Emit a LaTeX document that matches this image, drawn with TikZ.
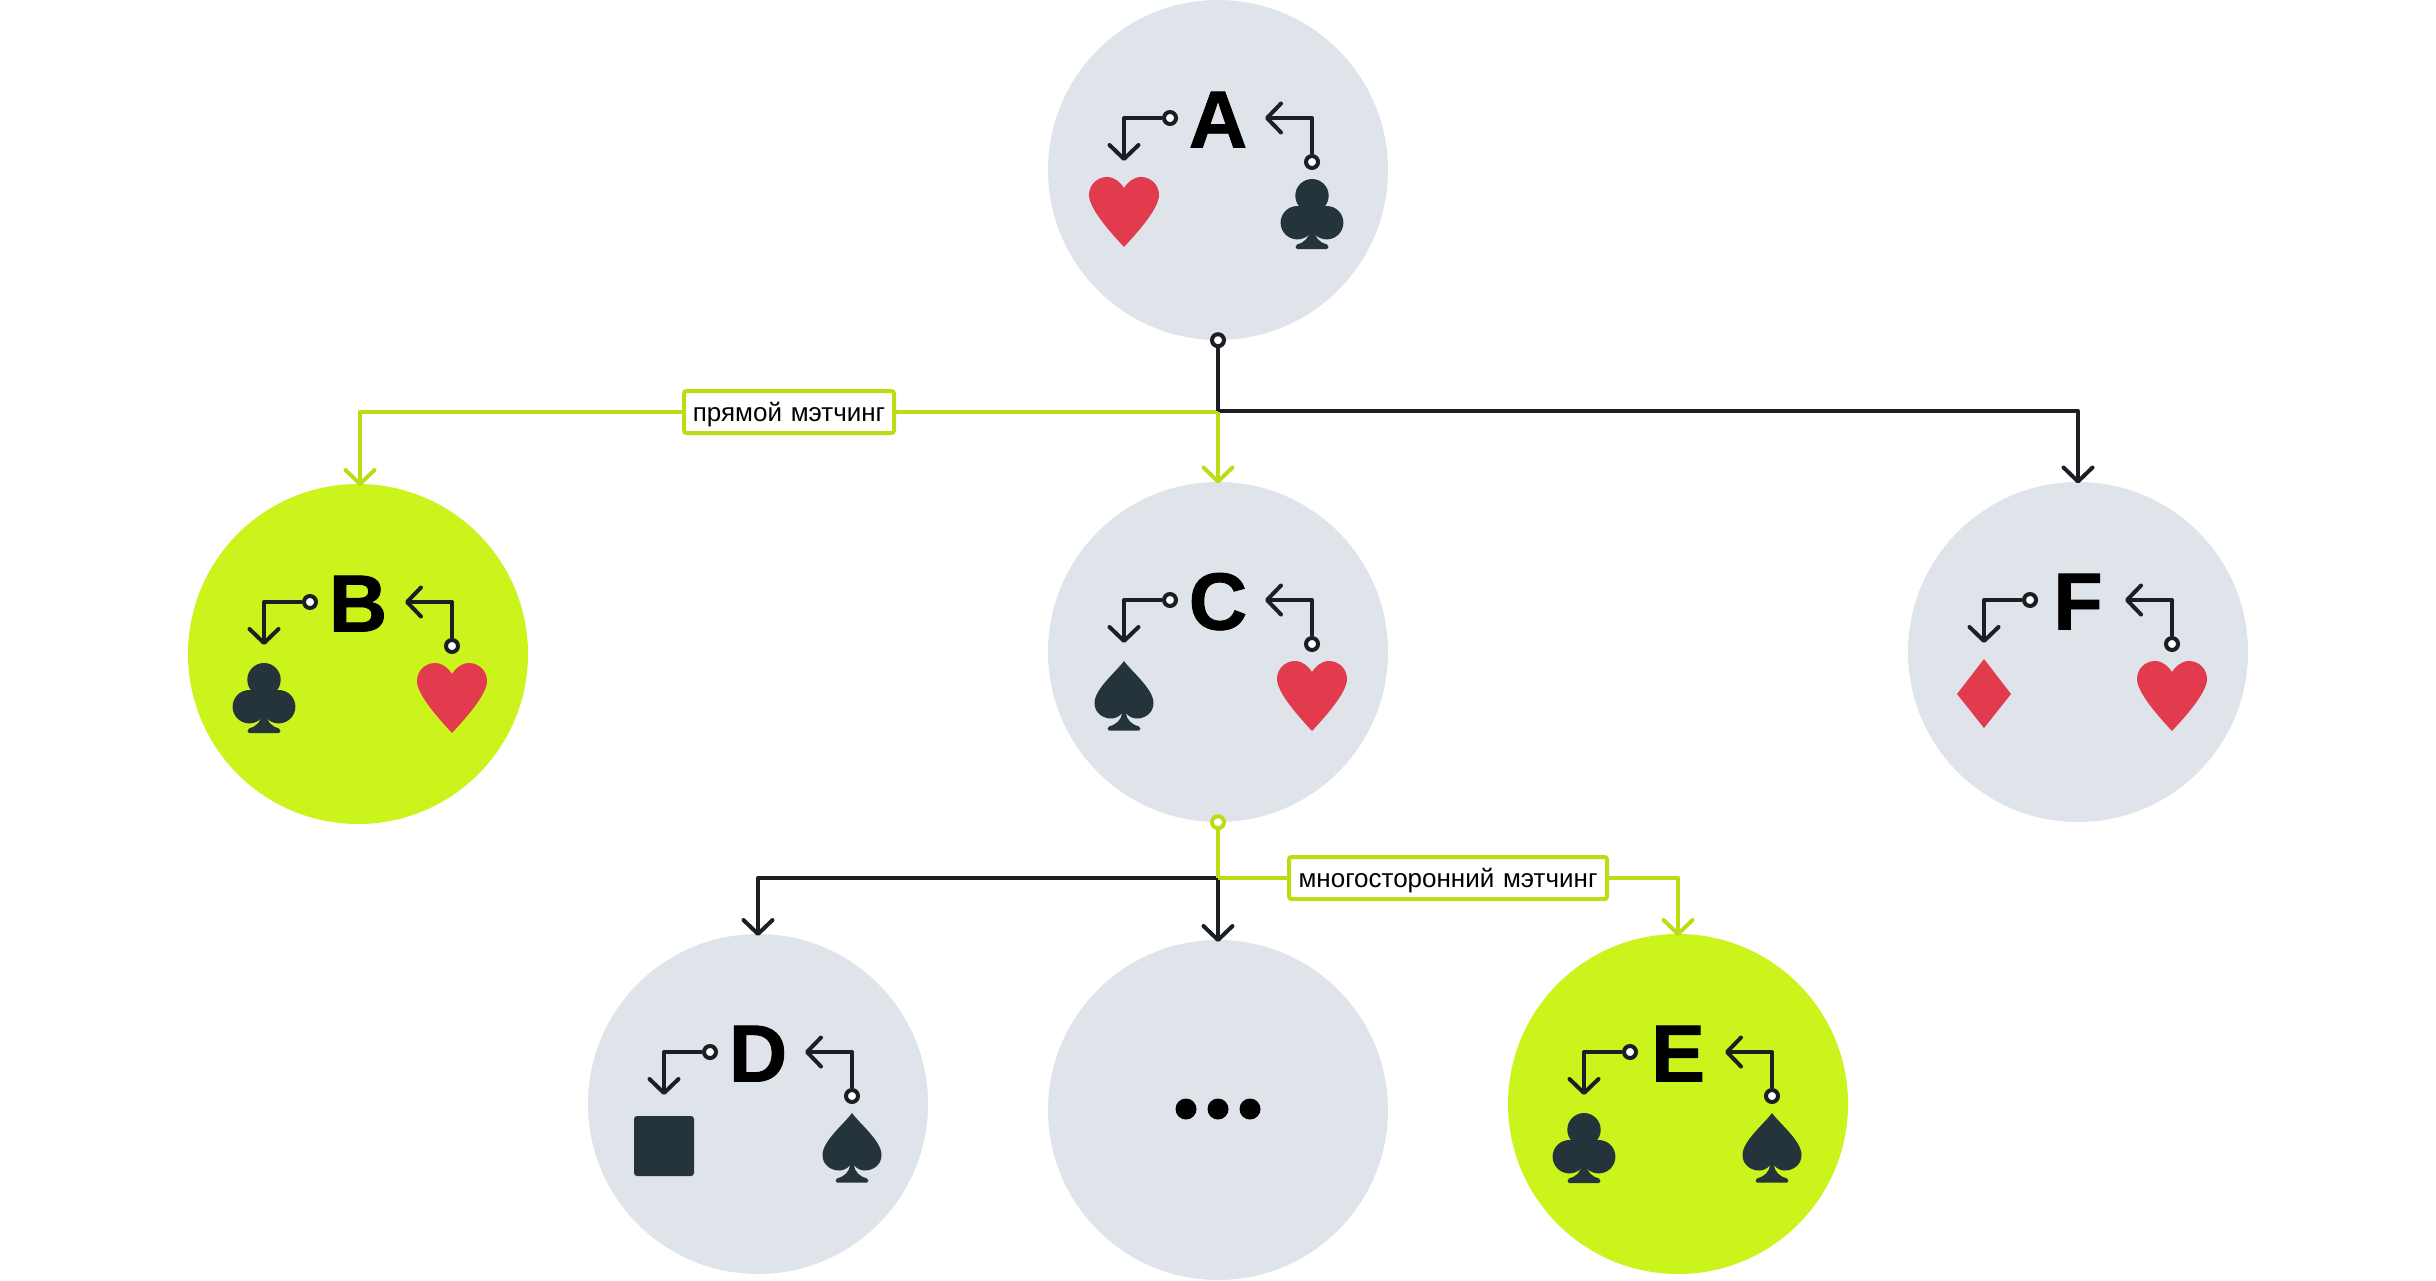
\documentclass[tikz,border=0pt]{standalone}
\usepackage{fontspec}
\setmainfont{Liberation Sans}[BoldFeatures={FakeBold=1}]
\usetikzlibrary{arrows.meta}
\definecolor{disc}{HTML}{DFE4EA}
\definecolor{discsel}{HTML}{CBF31C}
\definecolor{limeline}{HTML}{BCDD15}
\definecolor{ink}{HTML}{1B1F23}
\definecolor{suitred}{HTML}{E23B4E}
\definecolor{suitdark}{HTML}{25343B}
\tikzset{
  x=1pt,y=-1pt,
  disc/.style={circle,minimum size=340pt,inner sep=0pt,draw=none,fill=#1},
  letter/.style={anchor=base,inner sep=0pt,font=\fontsize{81}{81}\selectfont\bfseries,text=black},
  pin/.style={circle,minimum size=12pt,inner sep=0pt,line width=4pt,draw=#1,fill=white},
  pin/.default=ink,
  tip/.style={-{Straight Barb[length=14pt,width=29pt,line width=4pt,round]}},
  wire/.style={line width=4pt,draw=#1,line join=round},
  wire/.default=ink,
  tag/.style={draw=limeline,line width=4pt,fill=white,rounded corners=2.5pt,inner sep=0pt,minimum height=#1,text height=18pt,text depth=0pt,font=\fontsize{26}{26}\selectfont,text=black},
  suitheart/.pic={\fill[suitred] (0,11) .. controls (-3,6) and (-9,0) .. (-17,0) .. controls (-27,0) and (-35,8) .. (-35,18) .. controls (-35,32) and (-12,57) .. (0,70) .. controls (12,57) and (35,32) .. (35,18) .. controls (35,8) and (27,0) .. (17,0) .. controls (9,0) and (3,6) .. (0,11) -- cycle;},
  suitclub/.pic={\fill[suitdark] (0,16.7) circle[radius=16.7];
    \fill[suitdark] (-14.7,43.7) circle[radius=16.7];
    \fill[suitdark] (14.7,43.7) circle[radius=16.7];
    \fill[suitdark] (-8,30) rectangle (8,46);
    \fill[suitdark] (-2,50) .. controls (-2,58) and (-8,64) .. (-15,65.5) .. controls (-17,66.5) and (-17,70) .. (-15,70) -- (15,70) .. controls (17,70) and (17,66.5) .. (15,65.5) .. controls (8,64) and (2,58) .. (2,50) -- cycle;},
  suitspade/.pic={\fill[suitdark] (0,0) .. controls (-8,11) and (-29.5,28) .. (-29.5,42) .. controls (-29.5,52) and (-21,57.5) .. (-13,57.5) .. controls (-9,57.5) and (-5,56) .. (-2,52) .. controls (-2,58) and (-8,64) .. (-15,65.5) .. controls (-17,66.5) and (-17,69.5) .. (-15,69.5) -- (15,69.5) .. controls (17,69.5) and (17,66.5) .. (15,65.5) .. controls (8,64) and (2,58) .. (2,52) .. controls (5,56) and (9,57.5) .. (13,57.5) .. controls (21,57.5) and (29.5,52) .. (29.5,42) .. controls (29.5,28) and (8,11) .. (0,0) -- cycle;},
  suitdiamond/.pic={\fill[suitred] (0,0) -- (27,35) -- (0,69) -- (-27,35) -- cycle;},
  suitsquare/.pic={\fill[suitdark,rounded corners=3pt] (-30,0) rectangle (30,60);},
}
% #1 name, #2 x, #3 y, #4 letter, #5 fill, #6 left suit, #7 right suit, #8 left offset, #9 right offset
\newcommand{\carddisc}[9]{%
  \node[disc=#5] (#1) at (#2,#3) {};
  \node[letter] (#1l) at (#2,#3-22.5) {#4};
  \node[pin,anchor=center] (#1p) at (#2-48,#3-52) {};
  \coordinate (#1pc) at (#2-94,#3-52);
  \coordinate (#1pt) at (#2-94,#3-9);
  \draw[wire,tip] (#1p.west) -- (#1pc) -- (#1pt);
  \node[pin] (#1q) at (#2+94,#3-8) {};
  \coordinate (#1qc) at (#2+94,#3-52);
  \coordinate (#1qt) at (#2+47,#3-52);
  \draw[wire,tip] (#1q.north) -- (#1qc) -- (#1qt);
  \pic at (#2-94,#3+#8) {#6};
  \pic at (#2+94,#3+#9) {#7};
}
\begin{document}
\begin{tikzpicture}
\useasboundingbox (0,0) rectangle (2436,1280);
\carddisc{A}{1218}{170}{A}{disc}{suitheart}{suitclub}{7}{9}
\carddisc{B}{358}{654}{B}{discsel}{suitclub}{suitheart}{9}{9}
\carddisc{C}{1218}{652}{C}{disc}{suitspade}{suitheart}{9}{9}
\carddisc{F}{2078}{652}{F}{disc}{suitdiamond}{suitheart}{7}{9}
\carddisc{D}{758}{1104}{D}{disc}{suitsquare}{suitspade}{12}{9}
\carddisc{E}{1678}{1104}{E}{discsel}{suitclub}{suitspade}{9}{9}
\node[disc=disc] (G) at (1218,1110) {};
\foreach \i/\dx in {1/-32,2/0,3/32}
  \node[circle,fill=black,minimum size=21pt,inner sep=0pt] (G\i) at (1218+\dx,1109) {};
% connectors from A
\node[pin,anchor=center] (Abot) at (A.south) {};
\coordinate (Ajun) at (1218,411);
\coordinate (Ajunl) at (1218,412);
\coordinate (Bturn) at (360,412);
\coordinate (Btip) at (360,486);
\coordinate (Ctip) at (1218,483.5);
\coordinate (Fturn) at (2078,411);
\coordinate (Ftip) at (2078,483.5);
\draw[wire,tip] (Ajun) -- (Fturn) -- (Ftip);
\draw[wire=limeline,tip] (Ajunl) -- (Ctip);
\draw[wire=limeline,tip] (Ajunl) -- (Bturn) -- (Btip);
\draw[wire] (Abot.south) -- (Ajun);
\node[tag=42pt,text width=210pt,align=center] (tagA) at (789,412) {прямой мэтчинг};
% connectors from C
\node[pin=limeline,anchor=center] (Cbot) at (C.south) {};
\coordinate (Cjun) at (1218,878);
\coordinate (Dturn) at (758,878);
\coordinate (Dtip) at (758,936);
\coordinate (Gtip) at (1218,942);
\coordinate (Eturn) at (1678,878);
\coordinate (Etip) at (1678,936);
\draw[wire,tip] (Cjun) -- (Dturn) -- (Dtip);
\draw[wire,tip] (Cjun) -- (Gtip);
\draw[wire=limeline] (Cbot.south) -- (Cjun);
\draw[wire=limeline,tip] (Cjun) -- (Eturn) -- (Etip);
\node[tag=42pt,text width=318pt,align=center] (tagC) at (1448,878) {многосторонний мэтчинг};
\end{tikzpicture}
\end{document}
